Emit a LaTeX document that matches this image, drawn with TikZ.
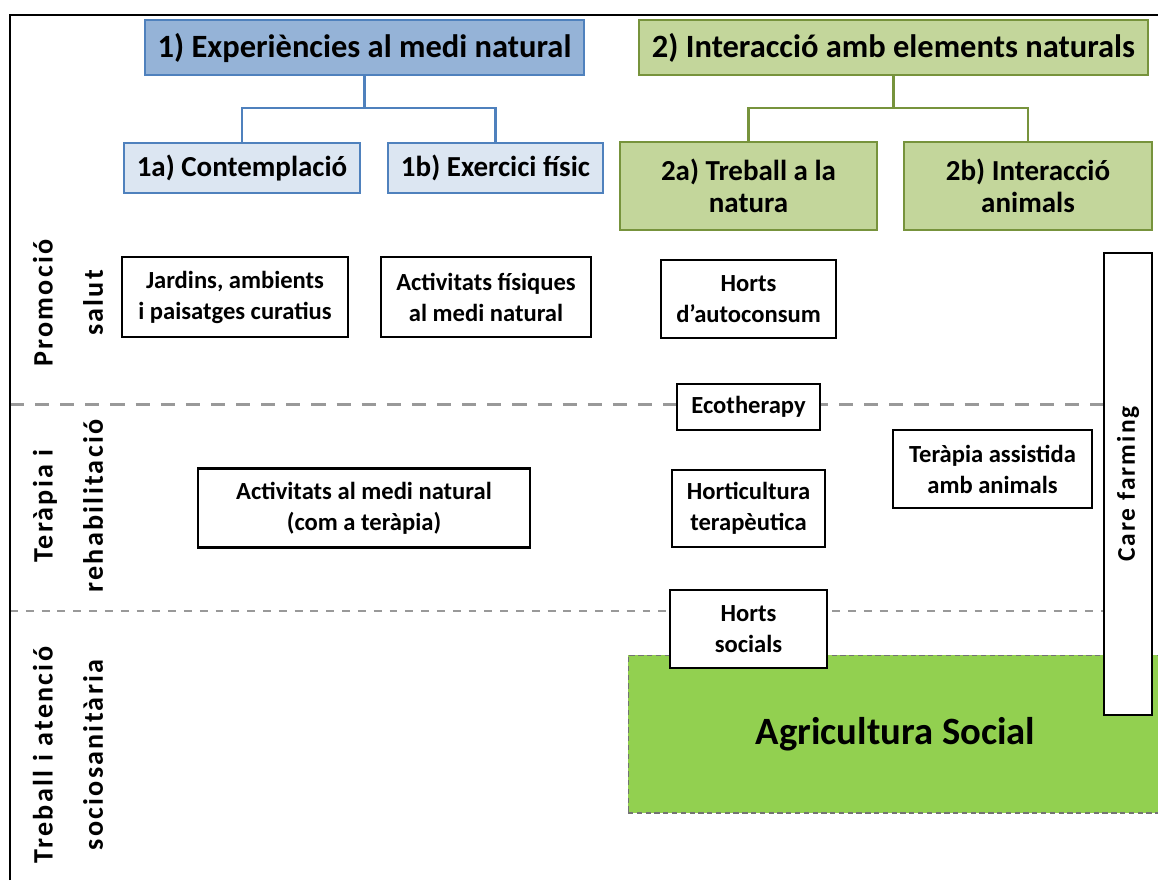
\documentclass[tikz,border=0pt]{standalone}
\usepackage{fontspec}
\setmainfont{Carlito}
\newfontfamily\rowfont[LetterSpace=8,WordSpace=1.8]{Carlito}
\newfontfamily\carefont[LetterSpace=8]{Carlito}
\usetikzlibrary{backgrounds}
\definecolor{bluedark}{HTML}{4F81BD}
\definecolor{bluemid}{HTML}{95B3D7}
\definecolor{bluelight}{HTML}{DCE6F2}
\definecolor{greendark}{HTML}{77933C}
\definecolor{greenlight}{HTML}{C3D69B}
\definecolor{greenagri}{HTML}{92D050}

\begin{document}
\begin{tikzpicture}[x=0.02cm,y=-0.02cm,
	bluehead/.style={draw=bluedark,fill=bluemid,line width=1.6pt,font=\fontsize{18.5}{22}\selectfont\bfseries},
	greenhead/.style={draw=greendark,fill=greenlight,line width=1.6pt,font=\fontsize{18.5}{22}\selectfont\bfseries},
	bluesub/.style={draw=bluedark,fill=bluelight,line width=1.6pt,font=\fontsize{16.5}{18.2}\selectfont\bfseries},
	greensub/.style={draw=greendark,fill=greenlight,line width=1.6pt,align=center,font=\fontsize{16.5}{18.2}\selectfont\bfseries},
	itembox/.style={draw=black,fill=white,line width=1.3pt,align=center,font=\fontsize{14}{17.6}\selectfont\bfseries},
	rowlabel/.style={rotate=90,align=center,font=\rowfont\fontsize{16}{28.5}\selectfont\bfseries},
	bluelink/.style={draw=bluedark,line width=1.6pt},
	greenlink/.style={draw=greendark,line width=1.6pt},
	sepupper/.style={draw=black!40,line width=1.7pt,dash pattern=on 8pt off 6.3pt},
	seplower/.style={draw=black!40,line width=1.2pt,dash pattern=on 4.5pt off 4.5pt}
	]
	\useasboundingbox (0,0) rectangle (1158,880);
	\draw[line width=1.5pt] (10,880) -- (10,15) -- (1158,15);

	% groups and subgroups
	\node[bluehead,minimum width=8.78cm,minimum height=1.1cm] (exp) at (364.5,47.5) {1) Experiències al medi natural};
	\node[greenhead,minimum width=10.18cm,minimum height=1.1cm] (inter) at (893.5,47.5) {2) Interacció amb elements naturals};
	\node[bluesub,minimum width=4.72cm,minimum height=1cm] (contem) at (242,168) {1a) Contemplació};
	\node[bluesub,minimum width=4.3cm,minimum height=1cm] (exerc) at (495.5,168) {1b) Exercici físic};
	\node[greensub,minimum width=5.14cm,minimum height=1.76cm] (trebnat) at (748.5,186) {2a) Treball a la\\natura};
	\node[greensub,minimum width=4.96cm,minimum height=1.76cm] (interanim) at (1028,186) {2b) Interacció\\animals};
	\coordinate (jexp) at (364.5,108);
	\coordinate (jinter) at (893.5,108);
	\draw[bluelink] (exp.south) -- (jexp);
	\draw[bluelink] (contem.north) |- (jexp) -| (exerc.north);
	\draw[greenlink] (inter.south) -- (jinter);
	\draw[greenlink] (trebnat.north) |- (jinter) -| (interanim.north);

	% rows
	\node[rowlabel] (promo) at (68,303) {Promoció\\salut};
	\node[rowlabel] (terap) at (68,506) {Teràpia i\\rehabilitació};
	\node[rowlabel] (treb) at (68,755) {Treball i atenció\\sociosanitària};

	\node[itembox,minimum width=4.52cm,minimum height=1.6cm] (jardins) at (235,297) {Jardins, ambients\\i paisatges curatius};
	\node[itembox,minimum width=4.2cm,minimum height=1.6cm] (actfis) at (486,297) {Activitats físiques\\al medi natural};
	\node[itembox,minimum width=3.5cm,minimum height=1.56cm] (autoc) at (748.5,299) {Horts\\d’autoconsum};
	\node[itembox,minimum width=2.86cm,minimum height=0.92cm] (ecot) at (748.5,407) {Ecotherapy};
	\node[itembox,minimum width=6.64cm,minimum height=1.58cm] (actmedi) at (364,508) {Activitats al medi natural\\(com a teràpia)};
	\node[itembox,minimum width=3.06cm,minimum height=1.54cm] (horti) at (748.5,508.5) {Horticultura\\terapèutica};
	\node[itembox,minimum width=3.98cm,minimum height=1.56cm] (assist) at (992.5,469) {Teràpia assistida\\amb animals};
	\node[fill=greenagri,draw=black!55,densely dashed,line width=0.6pt,minimum width=10.7cm,minimum height=3.16cm,font=\fontsize{22}{25}\selectfont\bfseries] (agri) at (895.5,734) {Agricultura Social};
	\node[itembox,minimum width=3.14cm,minimum height=1.56cm] (socials) at (748.5,629) {Horts\\socials};
	\node[itembox,rotate=90,minimum width=9.24cm,minimum height=0.96cm,font=\carefont\fontsize{14.5}{16}\selectfont\bfseries] (care) at (1128,484) {Care farming};

	\begin{scope}[on background layer]
		\draw[sepupper] (10,404) -- (care.north |- 0,404);
		\draw[seplower] (10,611) -- (care.north |- 0,611);
	\end{scope}
\end{tikzpicture}
\end{document}
